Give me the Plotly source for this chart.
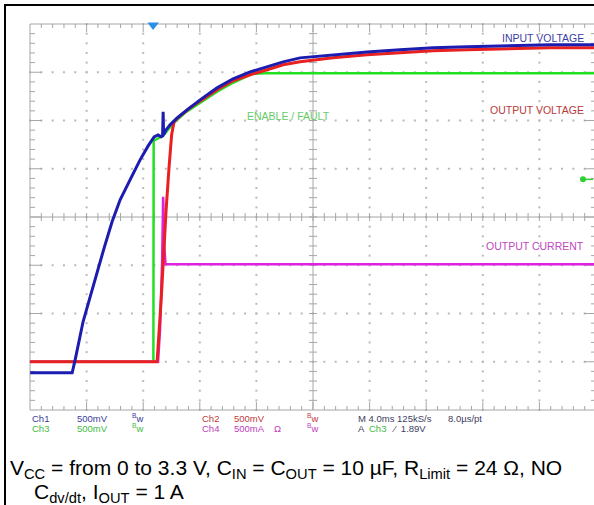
import plotly.graph_objects as go

# ---------------- data (time in ms relative to trigger) ----------------
# Ch1 : INPUT VOLTAGE (V)
t_in = [-8.69, -5.72, -5.51, -5.23, -4.95, -4.45, -3.96, -3.46, -2.90, -2.33, -1.63, -0.92,
        -0.35, 0.07, 0.35, 0.57, 0.67, 0.71, 0.74, 0.92, 1.20, 1.70, 2.40, 3.32, 4.52, 5.65,
        6.86, 8.06, 9.19, 10.39, 12.72, 15.12, 17.45, 19.79, 22.19, 24.52, 28.06, 31.31]
v_in = [0.0, 0.0, 0.135, 0.342, 0.529, 0.788, 1.047, 1.295, 1.565, 1.793, 2.000, 2.207,
        2.352, 2.446, 2.466, 2.446, 2.456, 2.705, 2.466, 2.518, 2.570, 2.643, 2.725, 2.829,
        2.953, 3.047, 3.119, 3.171, 3.223, 3.264, 3.295, 3.326, 3.347, 3.368, 3.378, 3.389,
        3.399, 3.399]

# Ch2 : OUTPUT VOLTAGE (V)
t_out = [-8.69, 0.28, 0.57, 0.78, 0.92, 1.13, 1.31, 1.48, 1.91, 2.61, 3.32, 4.52, 5.65, 6.86,
         8.06, 9.19, 10.39, 12.72, 15.12, 17.45, 19.79, 22.19, 24.52, 28.06, 31.31]
v_out = [0.0, 0.0, 0.643, 1.264, 1.575, 2.021, 2.352, 2.487, 2.549, 2.632, 2.705, 2.819, 2.912,
         2.974, 3.026, 3.078, 3.109, 3.150, 3.181, 3.202, 3.223, 3.233, 3.243, 3.254, 3.254]

# Ch3 : ENABLE / FAULT (V)
t_en = [-8.69, 0.02, 0.04, 0.35, 0.71, 1.06, 1.55, 2.26, 3.32, 4.52, 5.65, 6.50, 6.99, 7.91, 31.31]
v_en = [0.0, 0.0, 2.290, 2.311, 2.342, 2.404, 2.487, 2.580, 2.684, 2.798, 2.891, 2.953, 2.984,
        2.990, 2.990]

# Ch4 : OUTPUT CURRENT (A)
t_cur = [-8.69, 0.35, 0.49, 0.64, 0.71, 0.78, 0.88, 31.31]
i_cur = [0.0, 0.0, 0.332, 1.057, 1.710, 1.212, 1.010, 1.010]

TRIG_LEVEL = 1.89  # V on Ch3

# ---------------- scope settings ----------------
MS_PER_DIV = 4.0
T_LEFT = -8.7
SCALE = {"ch1": 0.5, "ch2": 0.5, "ch3": 0.5, "ch4": 0.5}
OFFSET = {"ch1": 0.77, "ch2": 1.0, "ch3": 1.0, "ch4": 1.0}  # ground position (div)

W, H = 594, 505
PX_X0, PX_DX = 30.0, 56.6      # graticule left edge / px per div
PX_Y0, PX_DY = 410.0, 48.25    # graticule bottom edge / px per div


def to_div(vals, ch):
    return [OFFSET[ch] + v / SCALE[ch] for v in vals]


xr = [T_LEFT - PX_X0 / PX_DX * MS_PER_DIV, T_LEFT + (W - PX_X0) / PX_DX * MS_PER_DIV]
yr = [-(H - PX_Y0) / PX_DY, PX_Y0 / PX_DY]
MSX = MS_PER_DIV / PX_DX   # ms per pixel
DVY = 1.0 / PX_DY          # div per pixel


def gx(d):
    return T_LEFT + d * MS_PER_DIV


fig = go.Figure()

GRID = "#b9b9b9"
BORDER = "#a6a6a6"

# grid dots
dx, dy = [], []
for k in range(1, 10):
    if k == 5:
        continue
    for j in range(0, 41):
        dx.append(gx(k)); dy.append(j / 5)
for k in range(1, 8):
    if k == 4:
        continue
    for j in range(0, 51):
        dx.append(gx(j / 5)); dy.append(k)
fig.add_trace(go.Scatter(x=dx, y=dy, mode="markers",
                         marker=dict(symbol="square", size=2, color=GRID, line=dict(width=0)),
                         hoverinfo="skip", showlegend=False))

# border + center cross + ticks
lx, ly = [], []
lx += [gx(0), gx(10), gx(10), gx(0), gx(0), None]
ly += [0, 0, 8, 8, 0, None]
lx += [gx(0), gx(10), None, gx(5), gx(5), None]
ly += [4, 4, None, 0, 8, None]
for j in range(1, 50):
    x = gx(j / 5)
    major = (j % 5 == 0)
    L = (8 if major else 4) * DVY
    lx += [x, x, None, x, x, None, x, x, None]
    ly += [8, 8 - L, None, 0, L, None, 4 - 4 * DVY, 4 + 4 * DVY, None]
for j in range(1, 40):
    y = j / 5
    major = (j % 5 == 0)
    L = (12 if major else 5) * MSX
    lx += [gx(0), gx(0) + L, None, gx(10), gx(10) - L, None,
           gx(5) - 4 * MSX, gx(5) + 4 * MSX, None]
    ly += [y, y, None, y, y, None, y, y, None]
fig.add_trace(go.Scatter(x=lx, y=ly, mode="lines", line=dict(color=BORDER, width=1),
                         hoverinfo="skip", showlegend=False))

# traces
fig.add_trace(go.Scatter(x=t_en, y=to_div(v_en, "ch3"), mode="lines",
                         line=dict(color="#22e022", width=2.5), showlegend=False))
fig.add_trace(go.Scatter(x=t_cur, y=to_div(i_cur, "ch4"), mode="lines",
                         line=dict(color="#e020e0", width=2.5), showlegend=False))
fig.add_trace(go.Scatter(x=t_out, y=to_div(v_out, "ch2"), mode="lines",
                         line=dict(color="#e82020", width=3), showlegend=False))
fig.add_trace(go.Scatter(x=t_in, y=to_div(v_in, "ch1"), mode="lines",
                         line=dict(color="#1c1cb0", width=3), showlegend=False))

# trigger position marker
fig.add_trace(go.Scatter(x=[0], y=[8 - 1 * DVY], mode="markers",
                         marker=dict(symbol="triangle-down", size=10, color="#2a8fe6"),
                         showlegend=False, hoverinfo="skip"))
# trigger level marker (right side)
lvl = OFFSET["ch3"] + TRIG_LEVEL / SCALE["ch3"]
fig.add_trace(go.Scatter(x=[gx(10) - 13 * MSX, gx(10) - 3 * MSX], y=[lvl, lvl], mode="lines",
                         line=dict(color="#30d030", width=1.5), showlegend=False, hoverinfo="skip"))
fig.add_trace(go.Scatter(x=[gx(10) - 13 * MSX], y=[lvl], mode="markers",
                         marker=dict(symbol="circle", size=6, color="#30d030"),
                         showlegend=False, hoverinfo="skip"))


def px2paper(px, py):
    return px / W, 1 - py / H


annots = []


def label(text, px, py, color, size, anchor="left", family="Liberation Sans"):
    x, y = px2paper(px, py)
    annots.append(dict(text=text, x=x, y=y, xref="paper", yref="paper", xanchor=anchor,
                       yanchor="middle", showarrow=False,
                       font=dict(family=family, size=size, color=color)))


label("INPUT VOLTAGE", 586, 38, "#3c3ca8", 10.5, "right")
label("OUTPUT VOLTAGE", 586, 110, "#b83a3a", 10.5, "right")
label("ENABLE / FAULT", 245, 116, "#66cc66", 10.5, "left")
label("OUTPUT CURRENT", 586, 246, "#c048c0", 10.5, "right")

# status rows
BL, RD, GR, MG, DK = "#3a3a9a", "#c03a3a", "#44bb44", "#c040c0", "#404060"
row1, row2 = 418, 428
FS = 9.5
label("Ch1", 30, row1, BL, FS)
label("500mV", 75, row1, BL, FS)
label("<sup>B</sup>w", 130, row1, BL, FS)
label("Ch2", 200, row1, RD, FS)
label("500mV", 232, row1, RD, FS)
label("<sup>B</sup>w", 305, row1, RD, FS)
label("M 4.0ms 125kS/s", 356, row1, DK, FS)
label("8.0µs/pt", 446, row1, DK, FS)
label("Ch3", 30, row2, GR, FS)
label("500mV", 75, row2, GR, FS)
label("<sup>B</sup>w", 130, row2, GR, FS)
label("Ch4", 200, row2, MG, FS)
label("500mA", 232, row2, MG, FS)
label("Ω", 272, row2, MG, FS)
label("<sup>B</sup>w", 305, row2, MG, FS)
label("A", 356, row2, DK, FS)
label("Ch3", 367, row2, GR, FS)
label("⁄  1.89V", 390, row2, DK, FS)

# caption
x, y = px2paper(8, 469)
annots.append(dict(text="V<sub>CC</sub> = from 0 to 3.3 V, C<sub>IN</sub> = C<sub>OUT</sub> = 10 µF, "
                        "R<sub>Limit</sub> = 24 Ω, NO",
                   x=x, y=y, xref="paper", yref="paper", xanchor="left", yanchor="middle",
                   showarrow=False, font=dict(family="Liberation Sans", size=21, color="#000000")))
x, y = px2paper(32, 493)
annots.append(dict(text="C<sub>dv/dt</sub>, I<sub>OUT</sub> = 1 A",
                   x=x, y=y, xref="paper", yref="paper", xanchor="left", yanchor="middle",
                   showarrow=False, font=dict(family="Liberation Sans", size=21, color="#000000")))

shapes = [
    dict(type="line", xref="paper", yref="paper", x0=4 / W, x1=1, y0=1 - 5 / H, y1=1 - 5 / H,
         line=dict(color="#000000", width=2)),
    dict(type="line", xref="paper", yref="paper", x0=5 / W, x1=5 / W, y0=0, y1=1 - 4 / H,
         line=dict(color="#000000", width=2)),
]

fig.update_layout(
    width=W, height=H, margin=dict(l=0, r=0, t=0, b=0, pad=0),
    paper_bgcolor="white", plot_bgcolor="white",
    xaxis=dict(range=xr, visible=False, fixedrange=True),
    yaxis=dict(range=yr, visible=False, fixedrange=True),
    annotations=annots, shapes=shapes, showlegend=False,
)

fig.write_html("out.html")
